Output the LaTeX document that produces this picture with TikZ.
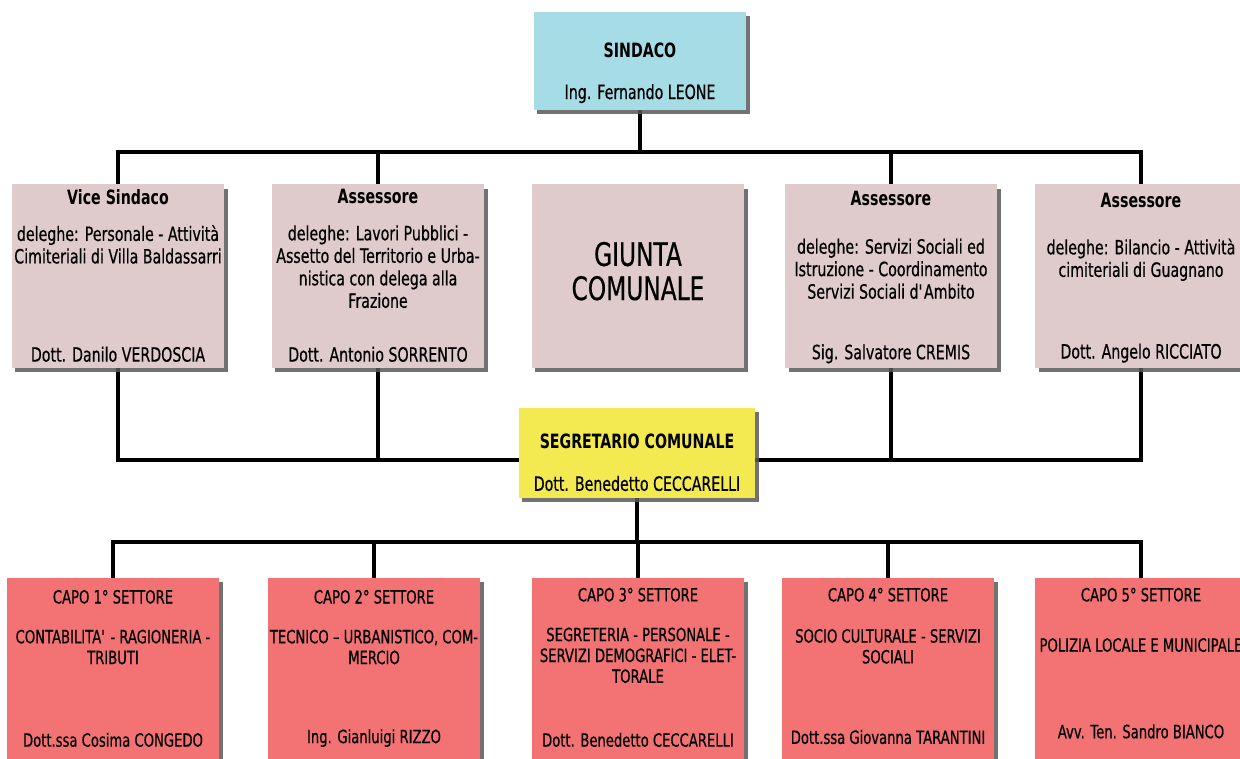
\documentclass[tikz,border=0pt]{standalone}
\usepackage{fontspec}
\setmainfont[FakeStretch=0.72, UprightFeatures={FakeBold=0.5}]{DejaVu Sans}
\usetikzlibrary{shadows, backgrounds}

\definecolor{azzurro}{RGB}{166,220,230}
\definecolor{rosato}{RGB}{224,203,204}
\definecolor{giallo}{RGB}{242,234,80}
\definecolor{rosso}{RGB}{243,115,116}

% box content: height, width, text
\newcommand{\cartello}[3]{\parbox[c][#1][t]{#2}{\centering #3}}

\begin{document}
\begin{tikzpicture}[
            x = 0.025cm, y = -0.025cm, % one unit = one pixel of the chart
            wire/.style = {line width = 2.6pt, black}, % connector style
            every node/.style = {inner sep = 0pt}
        ]

        \tikzstyle{box}=[
            rectangle,
            minimum width = 5.3cm,
            drop shadow = {shadow xshift = 2.5pt, shadow yshift = -3pt,
                           fill = black!65, opacity = .85},
            font = \fontsize{14}{16}\selectfont
        ]
        \tikzstyle{testa}=[box, fill = azzurro, minimum height = 2.45cm]
        \tikzstyle{giunta}=[box, fill = rosato, minimum height = 4.575cm]
        \tikzstyle{segr}=[box, fill = giallo, minimum width = 5.9cm, minimum height = 2.25cm]
        \tikzstyle{settore}=[box, fill = rosso, minimum height = 4.75cm,
            font = \fontsize{13}{14.8}\selectfont]

        \useasboundingbox (0,0) rectangle (1240,758);
        \clip (0,0) rectangle (1240,758);

	\node[testa] (sindaco) at (640,61) {\cartello{2.45cm}{5.2cm}{\vspace*{22pt}%
	    \textbf{SINDACO}\\[13.5pt] Ing. Fernando LEONE}};

	\node[giunta] (vice) at (118,276) {\cartello{4.575cm}{5.3cm}{\vspace*{3.5pt}%
	    \textbf{Vice Sindaco}\\[10pt]
	    deleghe: Personale - Attività\\ Cimiteriali di Villa Baldassarri\par
	    \vfill Dott. Danilo VERDOSCIA\par\vspace{4pt}}};
	\node[giunta] (ass2) at (378,276) {\cartello{4.575cm}{5.3cm}{\vspace*{3.5pt}%
	    \textbf{Assessore}\\[10pt]
	    deleghe: Lavori Pubblici -\\ Assetto del Territorio e Urba-\\
	    nistica con delega alla\\ Frazione\par
	    \vfill Dott. Antonio SORRENTO\par\vspace{4pt}}};
	\node[giunta] (giunta) at (638,276) {\raisebox{-6pt}{\fontsize{23}{24}\selectfont
	    \begin{tabular}{@{}c@{}}GIUNTA\\ COMUNALE\end{tabular}}};
	\node[giunta] (ass4) at (891,276) {\cartello{4.575cm}{5.3cm}{\vspace*{5pt}%
	    \textbf{Assessore}\\[18pt]
	    deleghe: Servizi Sociali ed\\ Istruzione - Coordinamento\\
	    Servizi Sociali d\textquotesingle Ambito\par
	    \vfill Sig. Salvatore CREMIS\par\vspace{3pt}}};
	\node[giunta] (ass5) at (1141,276) {\cartello{4.575cm}{5.3cm}{\vspace*{6.5pt}%
	    \textbf{Assessore}\\[17pt]
	    deleghe: Bilancio - Attività\\ cimiteriali di Guagnano\par
	    \vfill Dott. Angelo RICCIATO\par\vspace{3.5pt}}};

	\node[segr] (segretario) at (637,453) {\cartello{2.25cm}{5.8cm}{\vspace*{18.5pt}%
	    \textbf{SEGRETARIO COMUNALE}\\[14pt] Dott. Benedetto CECCARELLI}};

	\node[settore] (capo1) at (113,673) {\cartello{4.75cm}{5.3cm}{\vspace*{8.5pt}%
	    CAPO 1° SETTORE\\[13.5pt]
	    CONTABILITA\textquotesingle{} - RAGIONERIA -\\ TRIBUTI\par
	    \vfill Dott.ssa Cosima CONGEDO\par\vspace{15pt}}};
	\node[settore] (capo2) at (374,673) {\cartello{4.75cm}{5.3cm}{\vspace*{8.5pt}%
	    CAPO 2° SETTORE\\[13.5pt]
	    TECNICO – URBANISTICO, COM-\\ MERCIO\par
	    \vfill Ing. Gianluigi RIZZO\par\vspace{15pt}}};
	\node[settore] (capo3) at (638,673) {\cartello{4.75cm}{5.3cm}{\vspace*{7pt}%
	    CAPO 3° SETTORE\\[13.5pt]
	    SEGRETERIA - PERSONALE -\\ SERVIZI DEMOGRAFICI - ELET-\\ TORALE\par
	    \vfill Dott. Benedetto CECCARELLI\par\vspace{15pt}}};
	\node[settore] (capo4) at (888,673) {\cartello{4.75cm}{5.3cm}{\vspace*{7pt}%
	    CAPO 4° SETTORE\\[14.5pt]
	    SOCIO CULTURALE - SERVIZI\\ SOCIALI\par
	    \vfill Dott.ssa Giovanna TARANTINI\par\vspace{17pt}}};
	\node[settore] (capo5) at (1141,673) {\cartello{4.75cm}{5.3cm}{\vspace*{7pt}%
	    CAPO 5° SETTORE\\[21pt]
	    POLIZIA LOCALE E MUNICIPALE\par
	    \vfill Avv. Ten. Sandro BIANCO\par\vspace{21pt}}};

        \coordinate (bus1) at (640,152);
        \coordinate (bus2) at (640,460);
        \coordinate (bus3) at (640,542);

        \begin{pgfonlayer}{background}
        \draw[wire] (vice.north) -- (vice.north |- bus1) -- (ass5.north |- bus1) -- (ass5.north);
        \draw[wire] (sindaco) -- (bus1);
        \draw[wire] (ass2.north) -- (ass2.north |- bus1);
        \draw[wire] (ass4.north) -- (ass4.north |- bus1);

        \draw[wire] (vice.south) -- (vice.south |- bus2) -- (ass5.south |- bus2) -- (ass5.south);
        \draw[wire] (ass2.south) -- (ass2.south |- bus2);
        \draw[wire] (ass4.south) -- (ass4.south |- bus2);

        \draw[wire] (segretario) -- (segretario |- bus3);
        \draw[wire] (capo1.north) -- (capo1.north |- bus3) -- (capo5.north |- bus3) -- (capo5.north);
        \draw[wire] (capo2.north) -- (capo2.north |- bus3);
        \draw[wire] (capo3.north) -- (capo3.north |- bus3);
        \draw[wire] (capo4.north) -- (capo4.north |- bus3);
        \end{pgfonlayer}

    \end{tikzpicture}
\end{document}
